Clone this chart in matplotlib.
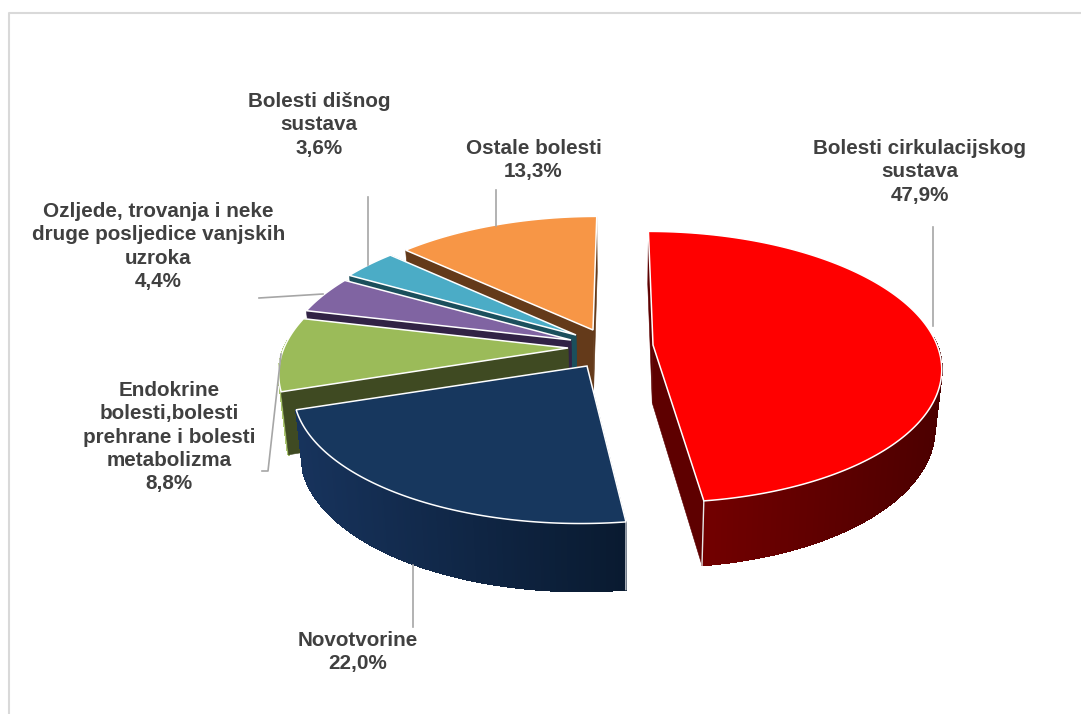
import numpy as np
import matplotlib
matplotlib.use("Agg")
import matplotlib.pyplot as plt
from matplotlib.collections import PolyCollection
from matplotlib.colors import to_rgb
from matplotlib.patches import Polygon

categories = ["Bolesti cirkulacijskog\nsustava", "Novotvorine",
              "Endokrine\nbolesti,bolesti\nprehrane i bolesti\nmetabolizma",
              "Ozljede, trovanja i neke\ndruge posljedice vanjskih\nuzroka",
              "Bolesti dišnog\nsustava", "Ostale bolesti"]
values = [47.9, 22.0, 8.8, 4.4, 3.6, 13.3]
top_colors = ["#ff0000", "#17375e", "#9bbb59", "#8064a2", "#4bacc6", "#f79646"]
inner_colors = ["#5e0000", "#0c1c33", "#3f4a22", "#312245", "#1b4f5c", "#643a1a"]
wall_left = ["#720000", "#17335c", "#a9c46e", "#4a3a60", "#2b6677", "#8a4d1d"]
wall_right = ["#4c0000", "#091a30", "#a9c46e", "#4a3a60", "#2b6677", "#8a4d1d"]

apex_x = [653, 587, 568, 571, 576, 593]
apex_y = [345, 366, 348, 340, 335, 330]
depths = [58, 61, 61, 61, 61, 61]
radius_x = [284, 289, 284, 284, 284, 284]
label_x = [919.5, 357.5, 169, 158.5, 319, 533.5]
label_top = [150, 642, 392, 213, 103, 150]
leaders = [[(933, 227), (933, 326)], [(413, 565), (413, 627)],
           [(262, 471), (268, 471), (281, 354)], [(259, 298), (323, 294)],
           [(368, 197), (368, 265)], [(496, 190), (496, 226)]]

VX, RY, B, ZS = 620.0, 132.0, 0.162, 0.978


def top_pt(i, r, deg):
    t = np.radians(deg)
    X, Y = r * np.sin(t), r * np.cos(t)
    w = 1 + B * Y
    return VX + ((apex_x[i] - VX) + radius_x[i] * X) / w, apex_y[i] - RY * Y / w, Y


def bot_pt(i, r, deg):
    x, y, Y = top_pt(i, r, deg)
    return VX + (x - VX) * ZS, y + depths[i] / (1 + 0.1 * Y)


fig = plt.figure(figsize=(10.81, 7.14), dpi=100)
ax = fig.add_axes([0, 0, 1, 1])
ax.set_xlim(0, 1081)
ax.set_ylim(714, 0)
ax.axis("off")
plt.rcParams["font.family"] = ["Liberation Sans", "DejaVu Sans"]

ax.plot([9, 9, 1081], [714, 13, 13], color="#d9d9d9", lw=1.5, zorder=1)

edges = np.concatenate([[0], np.cumsum(values)]) / sum(values) * 360
draw_order = [5, 4, 3, 2, 1, 0]
z = 5.0
for i in draw_order:
    a0, a1 = edges[i], edges[i + 1]
    deg = np.linspace(a0, a1, max(4, int((a1 - a0) * 2)))
    front = np.cos(np.radians((a0 + a1) / 2)) < -0.1

    # outer wall, shaded along its length; the rear part is hidden, so skip it
    tops = [top_pt(i, 1, d)[:2] for d in deg]
    bots = [bot_pt(i, 1, d) for d in deg]
    polys = [[tops[k], tops[k + 1], bots[k + 1], bots[k]] for k in range(len(deg) - 1)
             if np.cos(np.radians(deg[k])) < 0.05 or np.cos(np.radians(deg[k + 1])) < 0.05]
    wall = None
    if polys:
        xs = np.array([p[0][0] for p in polys])
        f = (xs - xs.min()) / max(xs.max() - xs.min(), 1)
        c0, c1 = np.array(to_rgb(wall_left[i])), np.array(to_rgb(wall_right[i]))
        cols = [tuple(c0 + (c1 - c0) * v) for v in f]
        wall = PolyCollection(polys, facecolors=cols, edgecolors=cols, linewidths=0.8,
                              antialiaseds=False)

    faces = []
    for d in (a0, a1):
        faces.append(Polygon([top_pt(i, 0, d)[:2], top_pt(i, 1, d)[:2],
                              bot_pt(i, 1, d), bot_pt(i, 0, d)],
                             closed=True, fc=inner_colors[i], ec=inner_colors[i], lw=0.4))
    if front:
        for p in faces:
            p.set_zorder(z); ax.add_patch(p)
        z += 1
        if wall is not None:
            wall.set_zorder(z); ax.add_collection(wall)
    else:
        if wall is not None:
            wall.set_zorder(z); ax.add_collection(wall)
        z += 1
        for p in faces:
            p.set_zorder(z); ax.add_patch(p)
    z += 1

    # white seam at the visible wall corners
    if i == 0:
        ax.plot(*zip(tops[-1], bots[-1]), color="#e8e8e8", lw=1, zorder=z)
    if i == 1:
        ax.plot(*zip(tops[0], bots[0]), color="#c8ccd2", lw=1, zorder=z)
    z += 1

    outline = [(apex_x[i], apex_y[i])] + tops
    ax.add_patch(Polygon(outline, closed=True, fc=top_colors[i], ec="white", lw=1.1,
                         joinstyle="miter", zorder=z))
    z += 1

for i, cat in enumerate(categories):
    text = f"{cat}\n{values[i]:.1f}%".replace(".", ",")
    ax.text(label_x[i], label_top[i] - 11, text, ha="center", va="top",
            fontsize=14.9, fontweight="bold", color="#404040",
            linespacing=1.29, zorder=60)
    pts = np.array(leaders[i])
    ax.plot(pts[:, 0], pts[:, 1], color="#a6a6a6", lw=1.2, zorder=40)

fig.savefig("out.png", dpi=100, facecolor="white")
